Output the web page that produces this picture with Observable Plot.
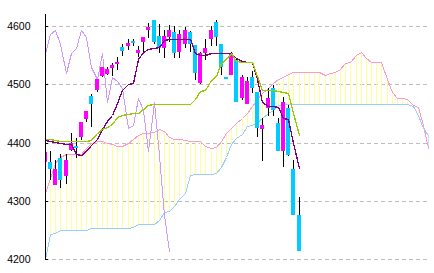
<!DOCTYPE html>
<html><head><meta charset="utf-8">
<script src="https://cdn.jsdelivr.net/npm/d3@7"></script>
<script src="https://cdn.jsdelivr.net/npm/@observablehq/plot@0.6"></script>
<style>html,body{margin:0;padding:0;background:#fff}</style>
</head><body><div id="chart"></div>
<script>
const yTicks = [4200, 4300, 4400, 4500, 4600];

// candles (50 sessions)
const openP  = [4367,4366,4327,4373,4342,4387,4395,4409,4440,4480,
                4490,4514,4518,4528,4535,4564,4565,4575,4554,4573,
                4594,4610,4583,4562,4581,4590,4556,4569,4590,4567,
                4503,4553,4577,4607,4569,4513,4516,4541,4477,4466,
                4512,4487,4423,4459,4493,4433,4386,4459,4355,4276];
const highP  = [4390,4385,4371,4380,4380,4416,4408,4436,4455,4483,
                4510,4530,4530,4536,4547,4570,4577,4577,4565,4581,
                4605,4611,4603,4593,4601,4600,4593,4599,4592,4568,
                4556,4577,4600,4610,4569,4513,4556,4546,4516,4513,
                4523,4487,4442,4493,4499,4442,4479,4465,4370,4306];
const lowP   = [4360,4336,4327,4323,4329,4385,4373,4405,4436,4427,
                4487,4512,4516,4514,4525,4549,4559,4565,4547,4554,
                4579,4569,4554,4545,4573,4546,4546,4562,4555,4507,
                4501,4541,4565,4565,4516,4509,4516,4469,4473,4466,
                4486,4410,4369,4446,4445,4386,4358,4377,4276,4215];
const closeP = [4384,4354,4354,4336,4371,4400,4390,4435,4454,4467,
                4509,4529,4526,4533,4538,4558,4571,4571,4559,4581,
                4599,4573,4562,4583,4593,4554,4586,4593,4569,4520,
                4553,4562,4594,4582,4529,4510,4553,4469,4512,4506,
                4494,4425,4430,4477,4456,4386,4469,4379,4276,4215];

// conversion line (tenkan) and base line (kijun)
const tenkan = [4405,4403,4401,4400,4398,4398,4380,4379,4385,4396,
                4406,4424,4437,4448,4468,4490,4500,4503,4543,4556,
                4560,4562,4564,4576,4577,4577,4577,4577,4577,4553,
                4550,4550,4553,4554,4554,4554,4554,4545,4540,4538,
                4538,4510,4470,4462,4462,4461,4442,4440,4400,4356];
const kijun  = [4406,4406,4405,4403,4403,4403,4403,4403,4403,4405,
                4417,4424,4427,4432,4444,4448,4449,4450,4451,4458,
                4465,4466,4466,4466,4466,4466,4466,4466,4466,4474,
                4488,4491,4507,4514,4536,4543,4554,4540,4539,4539,
                4539,4515,4491,4490,4490,4488,4487,4485,4450,4413];
// lagging span (plotted 25 sessions back)
const chikou = [4554,4586,4593,4569,4520,4553,4562,4594,4582,4529,
                4510,4553,4469,4512,4506,4494,4425,4430,4477,4456,
                4386,4469,4379,4276,4215];
// leading spans (75 positions incl. 25 ahead)
const spanA  = [4313,4340,4365,4375,4380,4380,4380,4381,4390,4399,
                4402,4402,4400,4398,4394,4394,4400,4407,4413,4416,
                4416,4418,4423,4420,4410,4407,4407,4404,4402,4402,
                4402,4395,4391,4393,4402,4416,4425,4433,4442,4450,
                4463,4475,4486,4493,4502,4509,4513,4518,4522,4522,
                4522,4522,4522,4522,4516,4520,4522,4527,4536,4539,
                4551,4556,4545,4539,4539,4538,4510,4487,4477,4476,
                4474,4464,4461,4430,4390];
const spanB  = [4200,4243,4245,4250,4250,4250,4250,4250,4250,4253,
                4253,4253,4253,4253,4253,4253,4254,4255,4260,4260,
                4260,4260,4267,4281,4283,4292,4303,4313,4344,4346,
                4346,4346,4346,4348,4358,4375,4398,4408,4414,4428,
                4430,4436,4442,4451,4456,4465,4466,4466,4466,4466,
                4466,4466,4466,4466,4466,4466,4466,4466,4466,4466,
                4466,4466,4466,4466,4466,4466,4466,4466,4466,4466,
                4466,4463,4447,4425,4413];

const candles = closeP.map((c, i) => ({i, o: openP[i], h: highP[i], l: lowP[i], c}));
const cloud = spanA.map((a, i) => ({i, a, b: spanB[i]}));
const X0 = 0.0386, X1 = 74.174, GRID_END = 73.79;

const chart = Plot.plot({
  width: 434, height: 273,
  marginLeft: 45, marginRight: 5, marginTop: 14, marginBottom: 13,
  style: {background: "#fff"},
  x: {domain: [X0, X1], axis: null, round: true},
  y: {domain: [4198.8, 4620.6], axis: null, round: true},
  marks: [
    Plot.ruleY(yTicks, {x1: X0, x2: GRID_END, stroke: "#bdbdbd", strokeDasharray: "4,3"}),
    Plot.ruleX(cloud, {x: "i", y1: "b", y2: "a", stroke: d => d.a >= d.b ? "#ffff99" : "#cce0ff", clip: true}),
    Plot.line(spanA, {x: (d, i) => i, y: d => d, stroke: "#ff99cc", strokeWidth: 1, shapeRendering: "crispEdges", clip: true}),
    Plot.line(spanB, {x: (d, i) => i, y: d => d, stroke: "#99ccff", strokeWidth: 1, shapeRendering: "crispEdges", clip: true}),
    Plot.line(chikou, {x: (d, i) => i, y: d => d, stroke: "#cc99ff", strokeWidth: 1, shapeRendering: "crispEdges", clip: true}),
    Plot.ruleX(candles, {x: "i", y1: "l", y2: "h", stroke: "#000", strokeWidth: 1, clip: true}),
    Plot.ruleX(candles, {x: "i", y1: "o", y2: "c", dx: -0.5, stroke: d => d.c >= d.o ? "#ff00ff" : "#00ccff", strokeWidth: 4, clip: true}),
    Plot.line(tenkan, {x: (d, i) => i, y: d => d, stroke: "#800080", strokeWidth: 1.3, shapeRendering: "crispEdges", clip: true}),
    Plot.line(kijun, {x: (d, i) => i, y: d => d, stroke: "#99cc00", strokeWidth: 1.3, shapeRendering: "crispEdges", clip: true}),
    Plot.ruleX([X0], {stroke: "#000", strokeWidth: 1}),
    Plot.axisY(yTicks, {anchor: "left", tickSize: -3, tickPadding: 18, tickFormat: d => `${d}`,
      fontSize: 10.5, fontFamily: "Liberation Sans, Arial, sans-serif", fill: "#000", stroke: "#000"})
  ]
});
document.getElementById("chart").appendChild(chart);
</script>
</body></html>
